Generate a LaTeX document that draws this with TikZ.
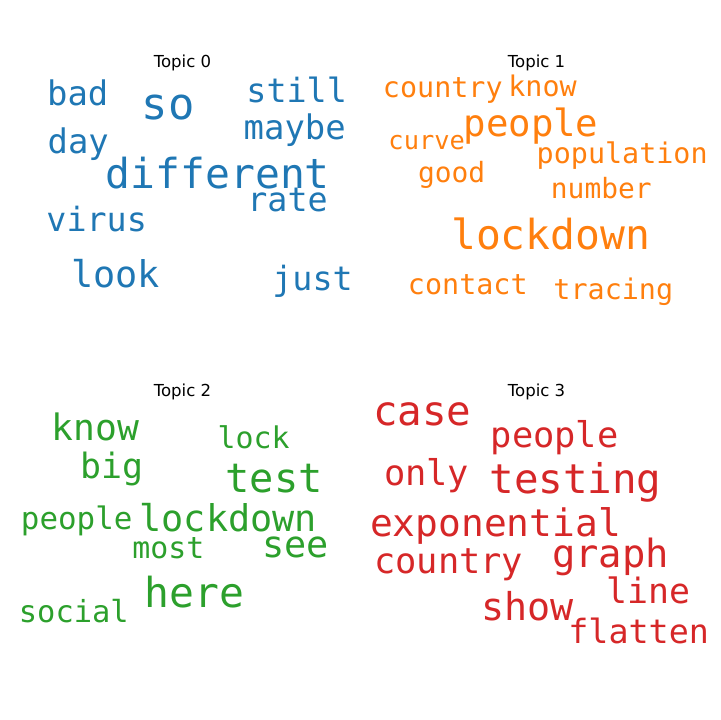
\documentclass[tikz,border=0pt]{standalone}
\usepackage{fontspec}
\newfontfamily\cloudfont{DejaVu Sans Mono}
\newfontfamily\titlefont{DejaVu Sans}
\usepackage{tikz}
\usetikzlibrary{positioning}
\definecolor{TopicBlue}{HTML}{1f77b4}
\definecolor{TopicOrange}{HTML}{ff7f0e}
\definecolor{TopicGreen}{HTML}{2ca02c}
\definecolor{TopicRed}{HTML}{d62728}
\newcommand{\wsz}[1]{\fontsize{#1}{#1}\selectfont}
\tikzset{
  % Title style
  topictitle/.style={anchor=base, inner sep=0pt, text=black, font=\titlefont\wsz{16.6}},
  % Word styles
  cloudword/.style={anchor=base, inner sep=0pt},
  wordblue/.style={cloudword, text=TopicBlue},
  wordorange/.style={cloudword, text=TopicOrange},
  wordgreen/.style={cloudword, text=TopicGreen},
  wordred/.style={cloudword, text=TopicRed}
}

\begin{document}
\begin{tikzpicture}[x=1bp, y=-1bp]
  \useasboundingbox (0,0) rectangle (720,720);

  \begin{scope}[yshift=-2bp]
  % Topic 0
  \node[topictitle] (title0) at (182.5,66) {Topic 0};
  \node[wordblue, font=\cloudfont\wsz{34}] (t0bad) at (77.7,103.3) {bad};
  \node[wordblue, font=\cloudfont\wsz{44}] (t0so) at (168,117.3) {so};
  \node[wordblue, font=\cloudfont\wsz{33.5}] (t0still) at (296.7,101) {still};
  \node[wordblue, font=\cloudfont\wsz{34}] (t0maybe) at (294.7,137.3) {maybe};
  \node[wordblue, font=\cloudfont\wsz{34}] (t0day) at (78.3,151.7) {day};
  \node[wordblue, font=\cloudfont\wsz{41.5}] (t0different) at (217.8,186.7) {different};
  \node[wordblue, font=\cloudfont\wsz{33.5}] (t0rate) at (287.5,209.3) {rate};
  \node[wordblue, font=\cloudfont\wsz{33.5}] (t0virus) at (96.7,229) {virus};
  \node[wordblue, font=\cloudfont\wsz{37}] (t0look) at (115.8,285) {look};
  \node[wordblue, font=\cloudfont\wsz{33.5}] (t0just) at (312.5,288.3) {just};

  % Topic 1
  \node[topictitle] (title1) at (536.5,66) {Topic 1};
  \node[wordorange, font=\cloudfont\wsz{28.5}] (t1country) at (442.8,96) {country};
  \node[wordorange, font=\cloudfont\wsz{28.5}] (t1know) at (542.5,95) {know};
  \node[wordorange, font=\cloudfont\wsz{37.5}] (t1people) at (531,135) {people};
  \node[wordorange, font=\cloudfont\wsz{25.5}] (t1curve) at (426.7,147.3) {curve};
  \node[wordorange, font=\cloudfont\wsz{28.5}] (t1population) at (622.2,161.7) {population};
  \node[wordorange, font=\cloudfont\wsz{28}] (t1good) at (451.7,180) {good};
  \node[wordorange, font=\cloudfont\wsz{28}] (t1number) at (601.3,196.7) {number};
  \node[wordorange, font=\cloudfont\wsz{41.5}] (t1lockdown) at (550.7,247.3) {lockdown};
  \node[wordorange, font=\cloudfont\wsz{28.5}] (t1contact) at (467.8,292.7) {contact};
  \node[wordorange, font=\cloudfont\wsz{28.5}] (t1tracing) at (613.3,297.3) {tracing};

  % Topic 2
  \node[topictitle] (title2) at (182.5,394) {Topic 2};
  \node[wordgreen, font=\cloudfont\wsz{36.5}] (t2know) at (95.3,438.3) {know};
  \node[wordgreen, font=\cloudfont\wsz{30}] (t2lock) at (253.7,446.7) {lock};
  \node[wordgreen, font=\cloudfont\wsz{35}] (t2big) at (111.7,476.7) {big};
  \node[wordgreen, font=\cloudfont\wsz{40.5}] (t2test) at (274.2,490) {test};
  \node[wordgreen, font=\cloudfont\wsz{31}] (t2people) at (76.7,527.7) {people};
  \node[wordgreen, font=\cloudfont\wsz{37}] (t2lockdown) at (228.3,529.3) {lockdown};
  \node[wordgreen, font=\cloudfont\wsz{30}] (t2most) at (168.3,556.7) {most};
  \node[wordgreen, font=\cloudfont\wsz{37}] (t2see) at (295.8,555.7) {see};
  \node[wordgreen, font=\cloudfont\wsz{41.5}] (t2here) at (194.2,605) {here};
  \node[wordgreen, font=\cloudfont\wsz{30.5}] (t2social) at (73.8,620) {social};

  % Topic 3
  \node[topictitle] (title3) at (536.5,394) {Topic 3};
  \node[wordred, font=\cloudfont\wsz{41}] (t3case) at (422.2,423.3) {case};
  \node[wordred, font=\cloudfont\wsz{35.5}] (t3people) at (554.7,445) {people};
  \node[wordred, font=\cloudfont\wsz{35.5}] (t3only) at (426.7,483.3) {only};
  \node[wordred, font=\cloudfont\wsz{41}] (t3testing) at (575.5,491.7) {testing};
  \node[wordred, font=\cloudfont\wsz{38}] (t3exponential) at (495.5,534) {exponential};
  \node[wordred, font=\cloudfont\wsz{35.5}] (t3country) at (448.7,571.7) {country};
  \node[wordred, font=\cloudfont\wsz{39}] (t3graph) at (610.5,565) {graph};
  \node[wordred, font=\cloudfont\wsz{35}] (t3line) at (648.3,601.7) {line};
  \node[wordred, font=\cloudfont\wsz{38.5}] (t3show) at (527.2,618.3) {show};
  \node[wordred, font=\cloudfont\wsz{33.5}] (t3flatten) at (638.7,641.7) {flatten};
  \end{scope}
\end{tikzpicture}
\end{document}
